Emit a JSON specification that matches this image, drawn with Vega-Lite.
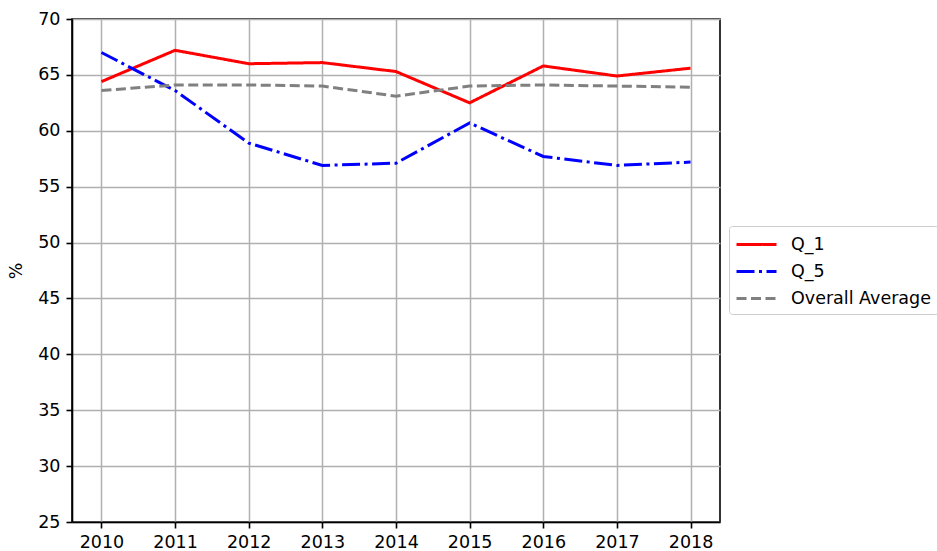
{
  "$schema": "https://vega.github.io/schema/vega-lite/v6.json",
  "width": 648,
  "height": 503,
  "autosize": "none",
  "padding": {"left": 72, "top": 19, "right": 217, "bottom": 29},
  "background": "white",
  "config": {
    "font": "DejaVu Sans",
    "view": {"stroke": "black", "strokeWidth": 1.6},
    "axis": {
      "labelFont": "DejaVu Sans",
      "labelFontSize": 17.5,
      "labelColor": "black",
      "titleFont": "DejaVu Sans",
      "titleFontSize": 17.5,
      "titleFontWeight": "normal",
      "titleColor": "black",
      "domainColor": "black",
      "domainWidth": 1.6,
      "tickColor": "black",
      "tickWidth": 1.6,
      "tickSize": 6,
      "gridColor": "#b0b0b0",
      "gridWidth": 1.5,
      "gridOpacity": 1,
      "labelPadding": 5
    }
  },
  "data": {
    "values": [
      {"year": 2010, "series": "Q_1", "value": 64.4},
      {"year": 2011, "series": "Q_1", "value": 67.2},
      {"year": 2012, "series": "Q_1", "value": 66.0},
      {"year": 2013, "series": "Q_1", "value": 66.1},
      {"year": 2014, "series": "Q_1", "value": 65.3},
      {"year": 2015, "series": "Q_1", "value": 62.5},
      {"year": 2016, "series": "Q_1", "value": 65.8},
      {"year": 2017, "series": "Q_1", "value": 64.9},
      {"year": 2018, "series": "Q_1", "value": 65.6},
      {"year": 2010, "series": "Q_5", "value": 67.0},
      {"year": 2011, "series": "Q_5", "value": 63.6},
      {"year": 2012, "series": "Q_5", "value": 58.9},
      {"year": 2013, "series": "Q_5", "value": 56.9},
      {"year": 2014, "series": "Q_5", "value": 57.1},
      {"year": 2015, "series": "Q_5", "value": 60.7},
      {"year": 2016, "series": "Q_5", "value": 57.7},
      {"year": 2017, "series": "Q_5", "value": 56.9},
      {"year": 2018, "series": "Q_5", "value": 57.2},
      {"year": 2010, "series": "Overall Average", "value": 63.6},
      {"year": 2011, "series": "Overall Average", "value": 64.1},
      {"year": 2012, "series": "Overall Average", "value": 64.1},
      {"year": 2013, "series": "Overall Average", "value": 64.0},
      {"year": 2014, "series": "Overall Average", "value": 63.1},
      {"year": 2015, "series": "Overall Average", "value": 64.0},
      {"year": 2016, "series": "Overall Average", "value": 64.1},
      {"year": 2017, "series": "Overall Average", "value": 64.0},
      {"year": 2018, "series": "Overall Average", "value": 63.9}
    ]
  },
  "mark": {"type": "line", "strokeWidth": 3},
  "encoding": {
    "x": {
      "field": "year",
      "type": "quantitative",
      "scale": {"domain": [2009.6, 2018.4], "nice": false, "zero": false},
      "axis": {
        "title": null,
        "values": [2010, 2011, 2012, 2013, 2014, 2015, 2016, 2017, 2018],
        "format": "d",
        "grid": true
      }
    },
    "y": {
      "field": "value",
      "type": "quantitative",
      "scale": {"domain": [25, 70], "nice": false, "zero": false},
      "axis": {
        "title": "%",
        "values": [25, 30, 35, 40, 45, 50, 55, 60, 65, 70],
        "grid": true,
        "labelPadding": 6,
        "titlePadding": 12
      }
    },
    "color": {
      "field": "series",
      "type": "nominal",
      "scale": {
        "domain": ["Q_1", "Q_5", "Overall Average"],
        "range": ["#ff0000", "#0000ff", "#808080"]
      },
      "legend": {
        "title": null,
        "orient": "none",
        "legendX": 657,
        "legendY": 207,
        "symbolType": "M-1.1,0L2.9,0",
        "symbolStrokeWidth": 3,
        "symbolSize": 400,
        "labelFont": "DejaVu Sans",
        "labelFontSize": 17.5,
        "labelColor": "black",
        "labelOffset": 32,
        "rowPadding": 7,
        "padding": 7,
        "strokeColor": "#cccccc",
        "fillColor": "white",
        "cornerRadius": 3
      }
    },
    "strokeDash": {
      "field": "series",
      "type": "nominal",
      "scale": {
        "domain": ["Q_1", "Q_5", "Overall Average"],
        "range": [[1, 0], [18, 4.5, 3, 4.5], [10, 4.5]]
      },
      "legend": null
    }
  }
}
